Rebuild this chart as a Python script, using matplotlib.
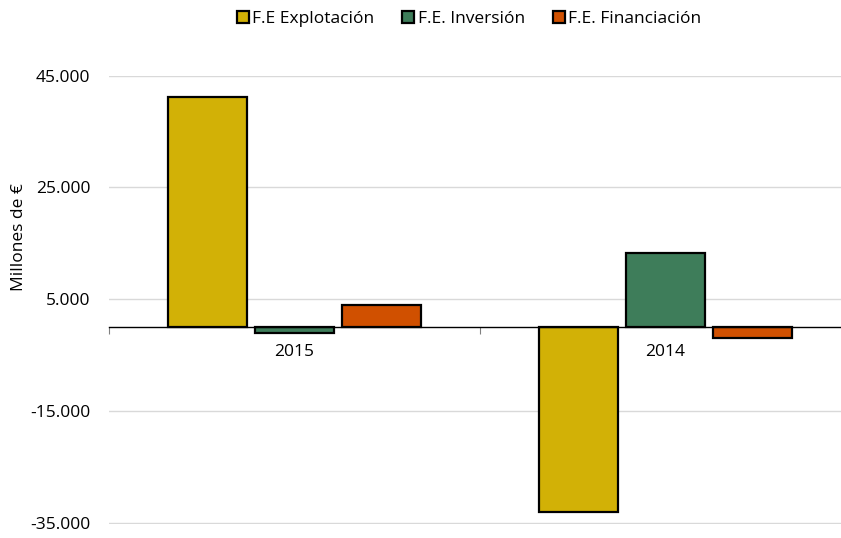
import numpy as np
import matplotlib.pyplot as plt
from matplotlib.ticker import FuncFormatter

years = ['2015', '2014']
series = ['F.E Explotación', 'F.E. Inversión', 'F.E. Financiación']
explotacion = [41100, -33000]
inversion = [-1100, 13200]
financiacion = [3900, -2000]
colors = ['#D2B106', '#3E7D5A', '#D05000']

plt.rcParams['font.family'] = ['Open Sans', 'DejaVu Sans']

fig = plt.figure(figsize=(8.41, 5.38), dpi=100)
ax = fig.add_axes([109/841, 13.6/538, 732/841, 448.7/538])

x = np.arange(len(years))
w = 0.213
step = 0.2345
for i, (vals, name) in enumerate(zip([explotacion, inversion, financiacion], series)):
    ax.bar(x + (i - 1)*step, vals, w, color=colors[i], edgecolor='black',
           linewidth=1.6, label=name, zorder=3)

ax.set_yticks([-35000, -15000, 5000, 25000, 45000])
ax.yaxis.set_major_formatter(FuncFormatter(lambda v, p: f'{int(v):,}'.replace(',', '.')))
ax.grid(axis='y', color='#d9d9d9', linewidth=1, zorder=0)
ax.tick_params(axis='y', length=0, labelsize=12.5, pad=13.5)

for s in ['top', 'right', 'left']:
    ax.spines[s].set_visible(False)
ax.spines['bottom'].set_position(('data', 0))
ax.spines['bottom'].set_linewidth(1)
ax.spines['bottom'].set_zorder(4)

ax.set_xticks([-0.5, 0.5, 1.5])
ax.set_xticklabels([])
ax.tick_params(axis='x', which='major', length=5, width=0.8, color='#808080')
ax.set_xticks(x, minor=True)
ax.set_xticklabels(years, minor=True)
ax.tick_params(axis='x', which='minor', length=0, labelsize=12.5, pad=12)

# limits after ticks, since set_xticks widens the view
ax.set_xlim(-0.5, 1.473)
ax.set_ylim(-35300, 45000)

ax.set_ylabel('Millones de €', fontsize=12.5)
ax.yaxis.set_label_coords(-0.112, 0.64)

fig.legend(loc='center', bbox_to_anchor=(469/841, 1 - 19/538), ncol=3, frameon=False,
           fontsize=12.5, handlelength=0.7, handleheight=0.7, handletextpad=0.2,
           columnspacing=1.6)

fig.savefig('out.png', dpi=100)
